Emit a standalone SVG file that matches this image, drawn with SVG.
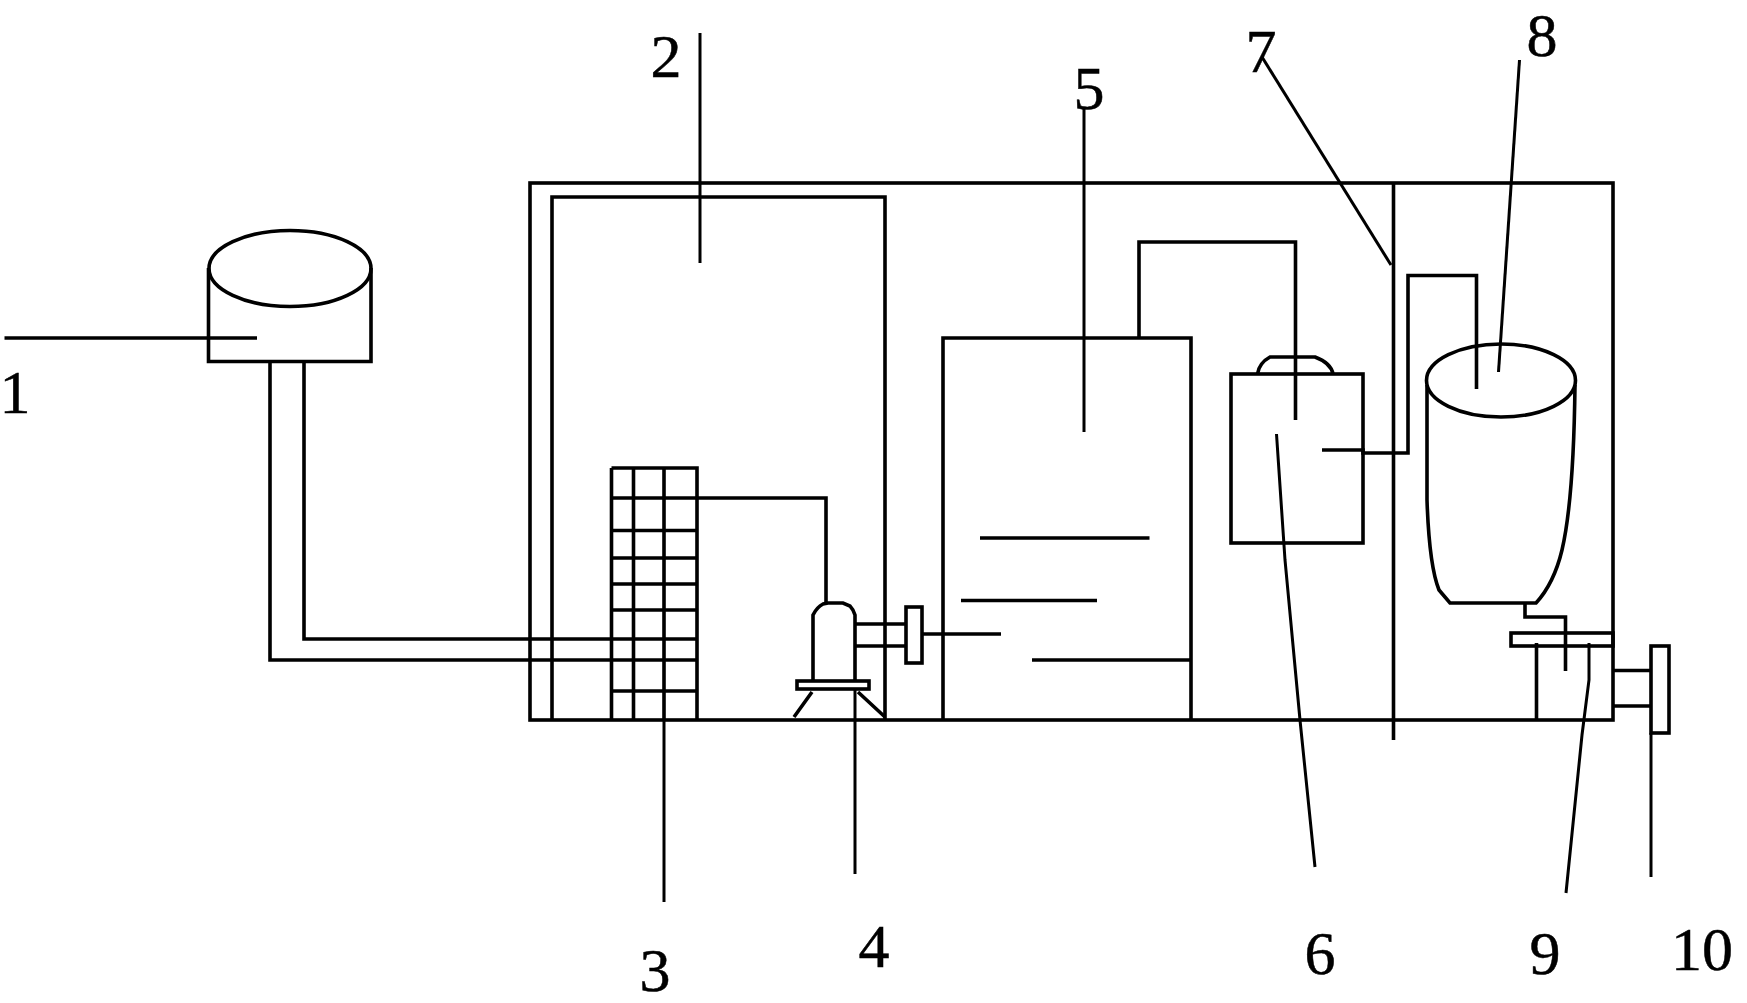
<svg xmlns="http://www.w3.org/2000/svg" width="1747" height="1003" viewBox="0 0 1747 1003">
<style>
.s{fill:none;stroke:#000;stroke-width:3.6;stroke-linejoin:miter;stroke-linecap:butt}
.l{fill:none;stroke:#000;stroke-width:3}
.t{font-family:"Liberation Serif","DejaVu Serif",serif;font-size:62px;fill:#000;stroke:#000;stroke-width:.5;text-anchor:middle}
</style>
<rect width="1747" height="1003" fill="#fff"/>
<g id="tank-1">
<path class="s" d="M208.500 268V361.500H371V268"/>
<ellipse class="s" cx="290" cy="268.500" rx="81" ry="38"/>
</g>
<g id="chamber-2">
<path class="s" d="M552 720V197H885V720"/>
</g>
<g id="enclosure">
<rect class="s" x="530" y="183" width="1083" height="537"/>
<path class="s" d="M1393.500 183V740"/>
</g>
<g id="grid-3">
<path class="s" d="M611.500 468H697V720M611.500 468V720M633.500 468V720M664 468V720"/>
<path class="s" d="M611.500 530.500H697M611.500 558H697M611.500 584H697M611.500 610H697M611.500 691H697"/>
</g>
<g id="pump-4">
<path class="s" d="M813 681V615Q817 607 823 604L828 603H843L850 606Q853 609 855 615V681"/>
<rect class="s" x="797" y="681" width="72" height="8"/>
<path class="s" d="M812 692L794 717M858 692L885 717"/>
<path class="s" d="M855 624H906M855 646H906"/>
<rect class="s" x="906" y="607" width="16" height="56"/>
<path class="s" d="M922 634H1001"/>
</g>
<g id="tank-5">
<path class="s" d="M943 720V338H1191V720"/>
<path class="s" d="M980 538H1149.500M961 600.500H1097M1032 660H1191"/>
</g>
<g id="vessel-6">
<rect class="s" x="1231" y="374" width="132" height="169"/>
<path class="s" d="M1257.500 374Q1259 363 1270 357H1315Q1331 363 1333 374"/>
</g>
<g id="tank-8">
<path class="s" d="M1427 385V500C1428 530 1431 570 1439 590L1450 603H1536C1548 590 1556 575 1562 550C1569 520 1574 470 1575 385"/>
<ellipse class="s" cx="1501" cy="380.500" rx="74.500" ry="36.500"/>
</g>
<g id="pump-9">
<rect class="s" x="1511" y="633" width="102" height="13"/>
<path class="s" d="M1536.500 643V720"/>
</g>
<g id="valve-10">
<path class="s" d="M1613 670.500H1651M1613 706H1651"/>
<rect class="s" x="1651" y="646" width="18" height="87"/>
</g>
<g id="connectors">
<path class="s" d="M304 362V639H697"/>
<path class="s" d="M270 362V660H697"/>
<path class="s" d="M611.500 498H826V603"/>
<path class="s" d="M1139 338V242H1295.500V420"/>
<path class="s" d="M1322 450H1363V453H1408V275.500H1476.500V389"/>
<path class="s" d="M1525 603V617H1565.500V671"/>
</g>
<g id="leaders">
<path class="s" d="M4.500 338H257"/>
<path class="l" d="M700 33V263"/>
<path class="l" d="M664 720V902"/>
<path class="l" d="M855 689V874"/>
<path class="l" d="M1084 107V432"/>
<path class="l" d="M1276.500 434L1285 560L1300 720L1315 867"/>
<path class="l" d="M1262 57L1391 265"/>
<path class="l" d="M1519.500 60L1498.500 372"/>
<path class="l" d="M1589 643V680L1582 735L1566 893"/>
<path class="l" d="M1651 733V877"/>
</g>
<g id="labels">
<text class="t" x="15" y="413">1</text>
<text class="t" x="666" y="77">2</text>
<text class="t" x="655" y="991">3</text>
<text class="t" x="874" y="967">4</text>
<text class="t" x="1089" y="109">5</text>
<text class="t" x="1320" y="974">6</text>
<text class="t" x="1261" y="72">7</text>
<text class="t" x="1542" y="55.500">8</text>
<text class="t" x="1545" y="974">9</text>
<text class="t" x="1702" y="970">10</text>
</g>
</svg>
